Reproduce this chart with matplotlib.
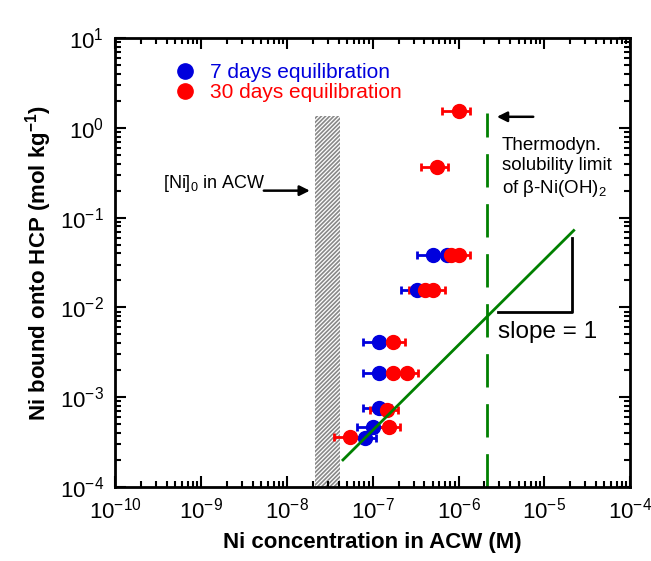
import numpy as np
import matplotlib.pyplot as plt
from matplotlib.lines import Line2D

plt.rcParams['font.family'] = ['Liberation Sans', 'DejaVu Sans']
plt.rcParams['mathtext.fontset'] = 'custom'
plt.rcParams['mathtext.rm'] = 'Liberation Sans'
plt.rcParams['mathtext.it'] = 'Liberation Sans:italic'
plt.rcParams['mathtext.bf'] = 'Liberation Sans:bold'
plt.rcParams['hatch.linewidth'] = 1.2

# 7 days equilibration
x7 = [5.1e-7, 7.4e-7, 3.3e-7, 1.2e-7, 1.2e-7, 1.2e-7, 1.0e-7, 8.2e-8]
y7 = [0.038, 0.038, 0.0158, 4.1e-3, 1.86e-3, 7.6e-4, 4.6e-4, 3.5e-4]
# 30 days equilibration
x30 = [1.0e-6, 5.6e-7, 8.2e-7, 1.0e-6, 4.1e-7, 5.1e-7, 1.74e-7, 1.74e-7, 2.5e-7,
       1.45e-7, 1.56e-7, 5.5e-8]
y30 = [1.55, 0.37, 0.038, 0.038, 0.0158, 0.0158, 4.1e-3, 1.86e-3, 1.86e-3,
       7.2e-4, 4.6e-4, 3.6e-4]
xerr_rel = 0.35
yerr_rel = 0.1

# initial Ni concentration band
ni0_lo, ni0_hi = 2.1e-8, 4.2e-8
ni0_top = 1.35
# solubility limit
sol_x = 2.16e-6
sol_top = 1.46
# slope-1 line
line_x = [4.5e-8, 2.2e-5]
line_y = [2.0e-4, 0.072]
# slope triangle
tri_x = [2.1e-5, 2.1e-5, 2.9e-6]
tri_y = [0.059, 0.0089, 0.0089]

fig = plt.figure(figsize=(6.51, 5.61), dpi=100)
ax = fig.add_axes([0.177, 0.132, 0.791, 0.800])
ax.set_xscale('log')
ax.set_yscale('log')
ax.set_xlim(1e-10, 1e-4)
ax.set_ylim(1e-4, 1e1)

ax.fill_between([ni0_lo, ni0_hi], 1e-4, ni0_top, facecolor='white',
                edgecolor='#888888', hatch='////////', linewidth=0, zorder=1)

ax.plot([sol_x, sol_x], [1e-4, sol_top], color='#008000', lw=2,
        dashes=(12, 6), zorder=2)
ax.plot(line_x, line_y, color='#008000', lw=2, zorder=4)
ax.plot(tri_x, tri_y, color='black', lw=2, zorder=2)

for xs, ys, c in [(x7, y7, '#0000dd'), (x30, y30, '#ff0000')]:
    xs = np.array(xs)
    ys = np.array(ys)
    ax.errorbar(xs, ys, xerr=[xs * xerr_rel, xs * xerr_rel],
                yerr=[ys * yerr_rel, ys * yerr_rel], fmt='o', color=c,
                ms=10, elinewidth=2, capsize=3, capthick=2, zorder=3)

handles = [Line2D([], [], ls='none', marker='o', color='#0000dd', ms=11),
           Line2D([], [], ls='none', marker='o', color='#ff0000', ms=11)]
ax.legend(handles, ['7 days equilibration', '30 days equilibration'],
          loc='upper left', bbox_to_anchor=(0.112, 0.945), frameon=False,
          fontsize=15, labelcolor=['#0000dd', '#ff0000'], handletextpad=0.6,
          handlelength=1.2, labelspacing=0.05, borderaxespad=0,
          borderpad=0)

ax.text(0.093, 0.676, '[Ni]$_0$ in ACW', transform=ax.transAxes, fontsize=13,
        va='center')
ax.annotate('', xy=(ni0_lo * 0.95, 0.2), xytext=(5.0e-9, 0.2),
            arrowprops=dict(arrowstyle='-|>', color='black', lw=1.8,
                            mutation_scale=15))
ax.annotate('', xy=(2.6e-6, 1.33), xytext=(8.0e-6, 1.33),
            arrowprops=dict(arrowstyle='-|>', color='black', lw=1.8,
                            mutation_scale=15))
ax.text(3.2e-6, 0.36, 'Thermodyn.\nsolubility limit\nof β-Ni(OH)$_2$',
        fontsize=13.5, va='center', linespacing=1.25)
ax.text(2.9e-6, 0.0053, 'slope = 1', fontsize=17.5, va='center')

ax.set_xlabel('Ni concentration in ACW (M)', fontsize=16, fontweight='bold',
              labelpad=6)
ax.set_ylabel('Ni bound onto HCP (mol kg$^{\\mathbf{-1}}$)', fontsize=16,
              fontweight='bold', labelpad=4)

ax.tick_params(which='both', direction='in', top=True, right=True,
               labelsize=16, width=1.5)
ax.tick_params(which='major', length=8, pad=8)
ax.tick_params(which='minor', length=4)
for s in ax.spines.values():
    s.set_linewidth(2)

fig.savefig('out.png', dpi=100)
